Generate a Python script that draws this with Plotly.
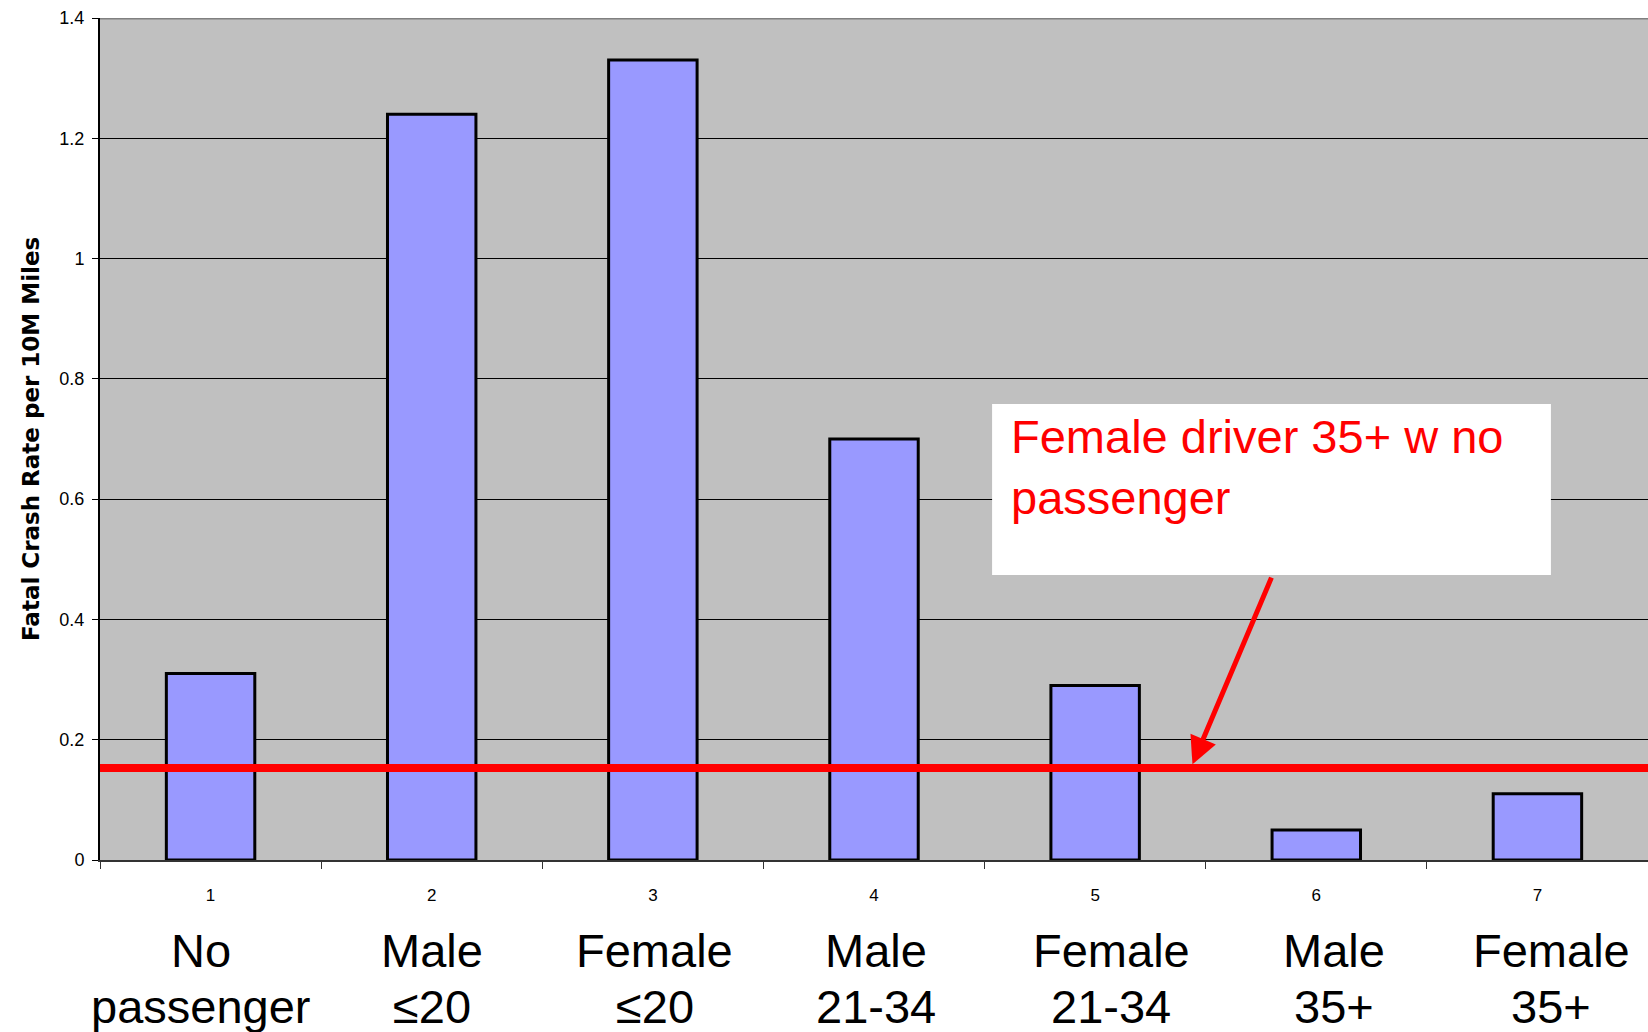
import plotly.graph_objects as go

# ---- data ----
categories = [1, 2, 3, 4, 5, 6, 7]
tick_labels = ["1", "2", "3", "4", "5", "6", "7"]
rates = [0.31, 1.24, 1.33, 0.70, 0.29, 0.05, 0.11]
label_line1 = ["No", "Male", "Female", "Male", "Female", "Male", "Female"]
label_line2 = ["passenger", "≤20", "≤20", "21-34", "21-34", "35+", "35+"]
label_offsets = [-10, 0, 2, 2, 16, 18, 14]  # px shift of the big category labels
reference_rate = 0.153  # Female driver 35+ w no passenger
y_ticks = [0, 0.2, 0.4, 0.6, 0.8, 1.0, 1.2, 1.4]
y_tick_text = ["0", "0.2", "0.4", "0.6", "0.8", "1", "1.2", "1.4"]
y_title = "Fatal Crash Rate per 10M Miles"
callout = "Female driver 35+ w no<br>passenger"

FONT = "Liberation Sans, Arial, sans-serif"

fig = go.Figure()
fig.add_trace(go.Bar(
    x=categories, y=rates, width=0.4,
    marker=dict(color="#9999FF", line=dict(color="black", width=3)),
    showlegend=False, hoverinfo="x+y",
))

fig.update_layout(
    width=1648, height=1032,
    margin=dict(l=100, r=0, t=18, b=172),
    paper_bgcolor="white", plot_bgcolor="#C0C0C0",
    font=dict(family=FONT, color="black"),
    showlegend=False,
)

fig.update_xaxes(
    range=[0.5, 7.5], tickmode="array", tickvals=categories, ticktext=tick_labels,
    ticks="", tickfont=dict(size=17, family=FONT), ticklabelstandoff=19,
    showgrid=False, zeroline=False,
    showline=True, linecolor="#333333", linewidth=2,
    minor=dict(ticks="outside", tick0=0.5, dtick=1, ticklen=7, tickcolor="#333333", tickwidth=1, showgrid=False),
)
fig.update_yaxes(
    range=[0, 1.4], tickmode="array", tickvals=y_ticks, ticktext=y_tick_text,
    ticks="outside", ticklen=6, tickcolor="black", tickwidth=1,
    tickfont=dict(size=18, family=FONT), ticklabelstandoff=4,
    showgrid=True, gridcolor="black", gridwidth=1, zeroline=False,
    showline=True, linecolor="black", linewidth=2,
)

# y-axis title
fig.add_annotation(
    xref="paper", yref="paper", x=0, y=0.5, xshift=-69, text="<b>" + y_title + "</b>",
    textangle=-90, showarrow=False, font=dict(size=23, family="DejaVu Sans, sans-serif", color="black"),
    xanchor="center", yanchor="middle",
)

# top border
fig.add_shape(type="line", xref="paper", yref="y", x0=0, x1=1, y0=1.4, y1=1.4,
              line=dict(color="#808080", width=3), layer="above")

# red reference line
fig.add_shape(type="line", xref="paper", yref="y", x0=0, x1=1, y0=reference_rate, y1=reference_rate,
              line=dict(color="#FF0000", width=8), layer="above")

# callout box
fig.add_shape(type="rect", xref="x", yref="y", x0=4.534, x1=7.061, y0=0.474, y1=0.758,
              fillcolor="white", line=dict(width=0), layer="above")
fig.add_annotation(
    xref="x", yref="y", x=4.61, y=0.758, yshift=-4, text=callout, showarrow=False,
    xanchor="left", yanchor="top", align="left",
    font=dict(size=47, family=FONT, color="#FF0000"),
)
# arrow
fig.add_annotation(
    xref="x", yref="y", x=5.44, y=reference_rate + 0.006,
    axref="x", ayref="y", ax=5.80, ay=0.472, text="",
    showarrow=True, arrowhead=2, arrowsize=1.1, arrowwidth=5, arrowcolor="#FF0000", standoff=0,
)

# category labels under the axis
for c, l1, l2, off in zip(categories, label_line1, label_line2, label_offsets):
    fig.add_annotation(xref="x", yref="y", x=c, y=0, xshift=off, yshift=-90, text=l1,
                       showarrow=False, xanchor="center", yanchor="middle",
                       font=dict(size=47, family=FONT, color="black"))
    fig.add_annotation(xref="x", yref="y", x=c, y=0, xshift=off, yshift=-146, text=l2,
                       showarrow=False, xanchor="center", yanchor="middle",
                       font=dict(size=47, family=FONT, color="black"))

fig.write_html(
    "out.html",
    config={"displayModeBar": False},
    post_script="document.body.style.margin='0';document.body.style.overflow='hidden';",
)
